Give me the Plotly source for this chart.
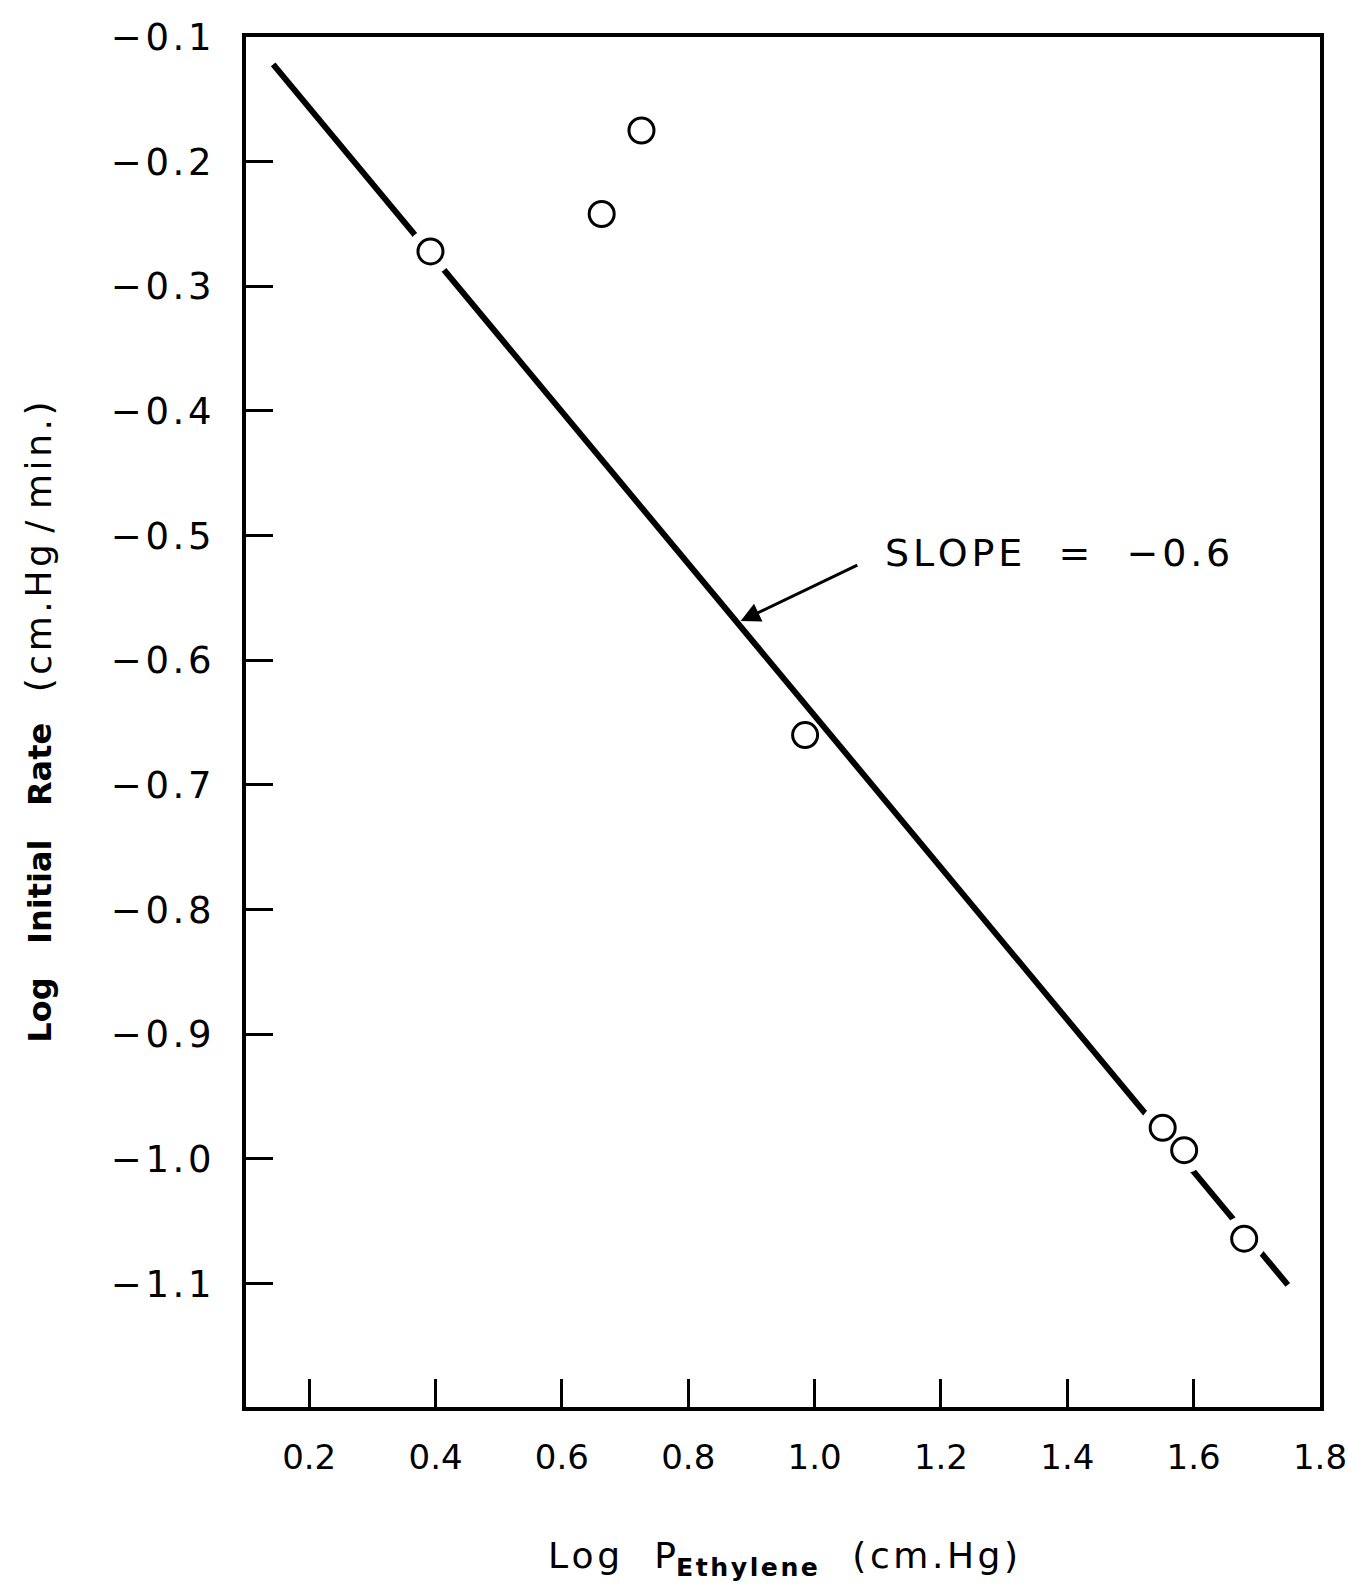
import plotly.graph_objects as go

# ---- data ----
log_p = [0.392, 0.663, 0.726, 0.985, 1.551, 1.585, 1.680]
log_rate = [-0.272, -0.242, -0.175, -0.660, -0.975, -0.993, -1.064]
on_line = [True, False, False, False, True, True, True]

fit_x = [0.143, 1.749]
fit_y = [-0.122, -1.101]

x_ticks = [0.2, 0.4, 0.6, 0.8, 1.0, 1.2, 1.4, 1.6, 1.8]
x_ticktext = ["0.2", "0.4", "0.6", "0.8", "1.0", "1.2", "1.4", "1.6", "1.8"]
y_ticks = [-0.1, -0.2, -0.3, -0.4, -0.5, -0.6, -0.7, -0.8, -0.9, -1.0, -1.1]
y_ticktext = ["\u22120.1", "\u22120.2", "\u22120.3", "\u22120.4", "\u22120.5", "\u22120.6",
              "\u22120.7", "\u22120.8", "\u22120.9", "\u22121.0", "\u22121.1"]

FONT = "DejaVu Sans"
NB = "\u00a0"
HS = "\u200a"


def spaced(s):
    return HS.join(s)


fig = go.Figure()

# fitted line
fig.add_trace(go.Scatter(x=fit_x, y=fit_y, mode="lines",
                         line=dict(color="black", width=6),
                         hoverinfo="skip", showlegend=False))

# white gaps in the line around points lying on it
hx = [x for x, f in zip(log_p, on_line) if f]
hy = [y for y, f in zip(log_rate, on_line) if f]
fig.add_trace(go.Scatter(x=hx, y=hy, mode="markers",
                         marker=dict(size=46, color="white", line=dict(width=0)),
                         hoverinfo="skip", showlegend=False))

# data points
fig.add_trace(go.Scatter(x=log_p, y=log_rate, mode="markers",
                         marker=dict(symbol="circle", size=25, color="white",
                                     line=dict(color="black", width=3)),
                         showlegend=False))

fig.add_annotation(x=0.883, y=-0.5685, ax=1.070, ay=-0.523,
                   xref="x", yref="y", axref="x", ayref="y",
                   text="", showarrow=True, arrowhead=2, arrowsize=1.3,
                   arrowwidth=3, arrowcolor="black")
fig.add_annotation(x=1.108, y=-0.514, xref="x", yref="y",
                   text=spaced("SLOPE") + NB * 3 + "=" + NB * 3 + spaced("\u22120.6"),
                   showarrow=False, xanchor="left", yanchor="middle",
                   font=dict(family=FONT, size=38, color="black"))

y_title = ("<b>Log" + NB * 3 + "Initial" + NB * 3 + "Rate</b>"
           + NB * 3 + "<span style='font-size:36px'>" + spaced("(cm.Hg") + NB + "/" + NB
           + spaced("min.)") + "</span>")
x_title = (spaced("Log") + NB * 3 + "P<sub><b>" + spaced("Ethylene") + "</b></sub>"
           + NB * 3 + spaced("(cm.Hg)"))

fig.update_layout(
    width=1348, height=1585,
    margin=dict(l=246, r=28, t=37, b=178),
    paper_bgcolor="white", plot_bgcolor="white",
    font=dict(family=FONT, color="black"),
    xaxis=dict(range=[0.1, 1.8], tickvals=x_ticks, ticktext=x_ticktext,
               automargin=False, ticklabeloverflow="allow",
               ticks="inside", ticklen=28, tickwidth=3, tickcolor="black",
               showline=True, linewidth=4, linecolor="black", mirror=True,
               showgrid=False, zeroline=False,
               tickfont=dict(family=FONT, size=34, color="black"),
               ticklabelstandoff=17,
               title=dict(text=x_title,
                          font=dict(family=FONT, size=36, color="black"),
                          standoff=68)),
    yaxis=dict(range=[-1.199, -0.1], tickvals=y_ticks, ticktext=[spaced(t) for t in y_ticktext],
               automargin=False, ticklabeloverflow="allow",
               ticks="inside", ticklen=27, tickwidth=3, tickcolor="black",
               showline=True, linewidth=4, linecolor="black", mirror=True,
               showgrid=False, zeroline=False,
               tickfont=dict(family=FONT, size=37, color="black"),
               ticklabelstandoff=23,
               title=dict(text=y_title,
                          font=dict(family=FONT, size=32, color="black"),
                          standoff=50)),
)

fig.write_html("out.html", config={"displayModeBar": False},
               post_script="document.body.style.margin='0';document.body.style.overflow='hidden';")
